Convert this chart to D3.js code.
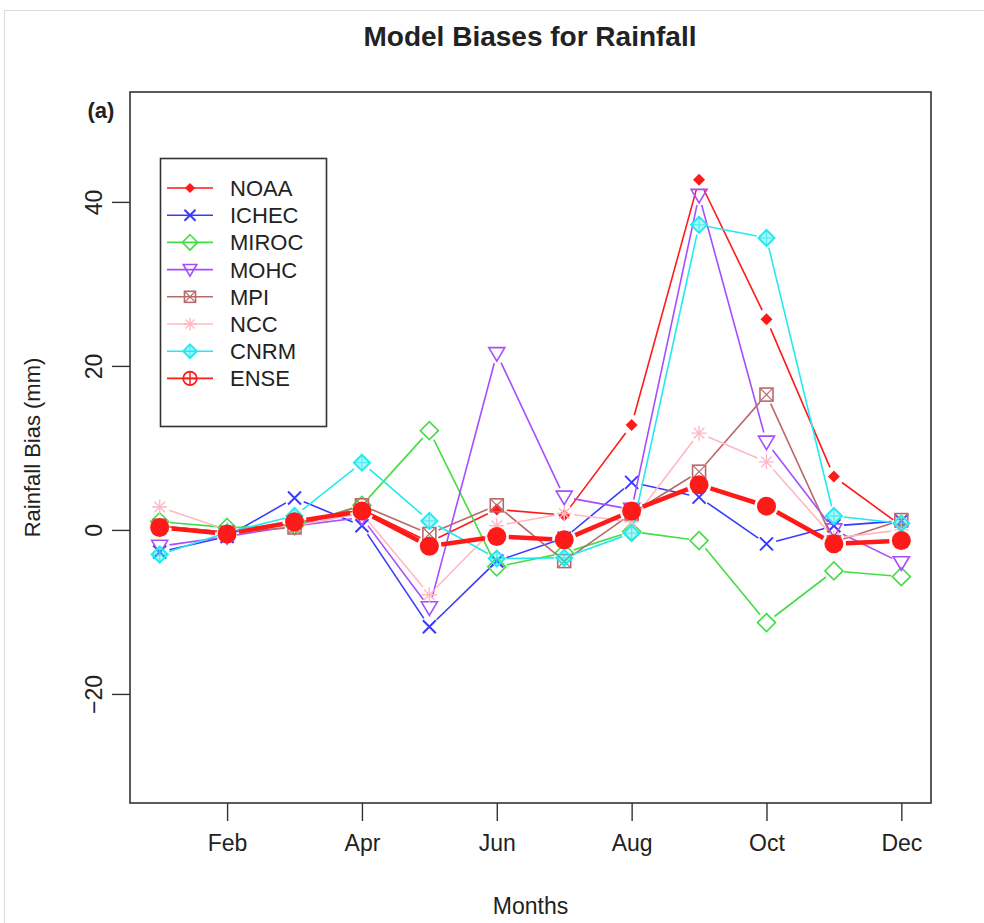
<!DOCTYPE html>
<html>
<head>
<meta charset="utf-8">
<script src="https://cdn.jsdelivr.net/npm/d3@7"></script>
<style>
  html, body { margin: 0; padding: 0; background: #fff; }
  svg text { font-family: "Liberation Sans", Arial, Helvetica, sans-serif; fill: #222; }
</style>
</head>
<body>
<svg id="chart" width="984" height="923"></svg>
<script>
// Monthly rainfall bias (mm) per model, Jan..Dec
const months = [1,2,3,4,5,6,7,8,9,10,11,12];
const tickMonths = [2,4,6,8,10,12];
const tickMonthLabels = ["Feb","Apr","Jun","Aug","Oct","Dec"];
const yTicks = [-20, 0, 20, 40];

const NOAA  = [0.5, -0.3, 0.8, 2.5, -1.5, 2.5, 1.8, 12.8, 42.7, 25.7, 6.5, 0.5];
const ICHEC = [-2.7, -0.8, 3.9, 0.5, -11.8, -3.8, -1.0, 5.8, 4.0, -1.7, 0.5, 1.1];
const MIROC = [1.0, 0.3, 0.5, 3.0, 12.1, -4.5, -2.8, -0.2, -1.3, -11.3, -5.0, -5.7];
const MOHC  = [-2.0, -0.8, 0.5, 1.5, -9.5, 21.5, 4.0, 2.5, 40.8, 10.7, 0.0, -4.0];
const MPI   = [0.5, -0.3, 0.3, 3.0, -0.5, 3.0, -3.8, 2.0, 7.1, 16.5, -1.5, 1.2];
const NCC   = [2.8, 0.0, 0.5, 2.0, -7.9, 0.5, 2.0, 1.0, 11.8, 8.3, -1.0, 0.0];
const CNRM  = [-3.0, -0.3, 1.7, 8.2, 1.1, -3.5, -3.4, -0.4, 37.2, 35.6, 1.7, 0.8];
const ENSE  = [0.3, -0.5, 1.0, 2.3, -2.0, -0.8, -1.2, 2.3, 5.5, 2.9, -1.7, -1.3];

const seriesNames  = ["NOAA","ICHEC","MIROC","MOHC","MPI","NCC","CNRM","ENSE"];
const seriesValues = [NOAA, ICHEC, MIROC, MOHC, MPI, NCC, CNRM, ENSE];
const seriesColors = ["#ff1a1a","#3a3aff","#44dd44","#a64dff","#b86a6a","#ffb8c4","#22eaf0","#ff1a1a"];
const seriesSymbols = ["diamondFilled","cross","diamond","triangleDown","boxX","star","diamondPlus","circleFilled"];
const legendSymbols = ["diamondFilled","cross","diamond","triangleDown","boxX","star","diamondPlus","circlePlus"];

const svg = d3.select("#chart");

// outer frame
svg.append("rect").attr("x", 4.5).attr("y", 10.5).attr("width", 990).attr("height", 930)
  .attr("fill", "none").attr("stroke", "#dcdcdc").attr("stroke-width", 1);

const plot = { left: 130, right: 931, top: 92, bottom: 803 };

const x = d3.scaleLinear().domain([0.56, 12.44]).range([plot.left, plot.right]);
const y = d3.scaleLinear().domain([-33.3, 53.4]).range([plot.bottom, plot.top]);

// axes
const xAxis = d3.axisBottom(x).tickValues(tickMonths)
  .tickFormat((d, i) => tickMonthLabels[i]).tickSize(18).tickPadding(14);
const gx = svg.append("g").attr("transform", `translate(0,${plot.bottom})`).call(xAxis);
gx.select(".domain").remove();
gx.selectAll("line").attr("stroke", "#333").attr("stroke-width", 1.4);
gx.selectAll("text").attr("font-size", 23).style("font-family", '"Liberation Sans", Arial, sans-serif').attr("fill", "#222");

const yAxis = d3.axisLeft(y).tickValues(yTicks).tickSize(18).tickFormat(d3.format("d"));
const gy = svg.append("g").attr("transform", `translate(${plot.left},0)`).call(yAxis);
gy.select(".domain").remove();
gy.selectAll("line").attr("stroke", "#333").attr("stroke-width", 1.4);
gy.selectAll("text")
  .attr("font-size", 23).style("font-family", '"Liberation Sans", Arial, sans-serif').attr("fill", "#222")
  .attr("x", null).attr("dy", null)
  .attr("text-anchor", "middle")
  .attr("transform", "translate(-28,0) rotate(-90)");

// plot box
svg.append("rect")
  .attr("x", plot.left).attr("y", plot.top)
  .attr("width", plot.right - plot.left).attr("height", plot.bottom - plot.top)
  .attr("fill", "none").attr("stroke", "#333").attr("stroke-width", 1.6);

// titles
svg.append("text").attr("x", 530).attr("y", 46).attr("text-anchor", "middle")
  .attr("font-size", 28).attr("font-weight", "bold").text("Model Biases for Rainfall");
svg.append("text").attr("x", 101).attr("y", 118).attr("text-anchor", "middle")
  .attr("font-size", 22).attr("font-weight", "bold").text("(a)");
svg.append("text").attr("x", (plot.left + plot.right) / 2).attr("y", 914).attr("text-anchor", "middle")
  .attr("font-size", 23).text("Months");
svg.append("text").attr("transform", `translate(40,${(plot.top + plot.bottom) / 2}) rotate(-90)`)
  .attr("text-anchor", "middle").attr("font-size", 22).text("Rainfall Bias (mm)");

// symbol drawing
function drawSymbol(g, type, cx, cy, color, scale) {
  const s = scale || 1;
  const t = g.append("g").attr("transform", `translate(${cx},${cy})`);
  const sw = 1.6;
  switch (type) {
    case "diamondFilled": {
      const r = 6 * s;
      t.append("path").attr("d", `M0,${-r}L${r},0L0,${r}L${-r},0Z`).attr("fill", color);
      break;
    }
    case "cross": {
      const r = 6.5 * s;
      t.append("path").attr("d", `M${-r},${-r}L${r},${r}M${-r},${r}L${r},${-r}`)
        .attr("stroke", color).attr("stroke-width", 2).attr("fill", "none");
      break;
    }
    case "diamond": {
      const r = 9 * s;
      t.append("path").attr("d", `M0,${-r}L${r},0L0,${r}L${-r},0Z`)
        .attr("stroke", color).attr("stroke-width", sw).attr("fill", "none");
      break;
    }
    case "triangleDown": {
      const r = 8 * s;
      t.append("path").attr("d", `M${-r},${-r * 0.75}L${r},${-r * 0.75}L0,${r * 0.95}Z`)
        .attr("stroke", color).attr("stroke-width", sw).attr("fill", "none");
      break;
    }
    case "boxX": {
      const r = 6.5 * s;
      t.append("rect").attr("x", -r).attr("y", -r).attr("width", 2 * r).attr("height", 2 * r)
        .attr("stroke", color).attr("stroke-width", sw).attr("fill", "none");
      t.append("path").attr("d", `M${-r},${-r}L${r},${r}M${-r},${r}L${r},${-r}`)
        .attr("stroke", color).attr("stroke-width", 1.2);
      break;
    }
    case "star": {
      const r = 7.5 * s;
      const d = r * 0.707;
      t.append("path").attr("d", `M${-r},0L${r},0M0,${-r}L0,${r}M${-d},${-d}L${d},${d}M${-d},${d}L${d},${-d}`)
        .attr("stroke", color).attr("stroke-width", 1.4);
      break;
    }
    case "diamondPlus": {
      const r = 8 * s;
      t.append("path").attr("d", `M0,${-r}L${r},0L0,${r}L${-r},0Z`)
        .attr("stroke", color).attr("stroke-width", 2).attr("fill", color).attr("fill-opacity", 0.35);
      t.append("path").attr("d", `M${-r},0L${r},0M0,${-r}L0,${r}`)
        .attr("stroke", color).attr("stroke-width", 1.3).attr("stroke-opacity", 0.7);
      break;
    }
    case "circleFilled": {
      t.append("circle").attr("r", 9.5 * s).attr("fill", color);
      break;
    }
    case "circlePlus": {
      const r = 8 * s;
      t.append("circle").attr("r", r).attr("fill", "none").attr("stroke", color).attr("stroke-width", 1.8);
      t.append("path").attr("d", `M${-r},0L${r},0M0,${-r}L0,${r}`)
        .attr("stroke", color).attr("stroke-width", 1.5);
      break;
    }
  }
}

// series: lines broken around each point, then the symbols
const marks = svg.append("g");
seriesNames.forEach((name, si) => {
  const vals = seriesValues[si];
  const color = seriesColors[si];
  const isMean = name === "ENSE";
  const gap = isMean ? 12 : 10;
  const g = marks.append("g");
  const pts = months.map((m, i) => [x(m), y(vals[i])]);
  for (let i = 0; i < pts.length - 1; i++) {
    const [x1, y1] = pts[i], [x2, y2] = pts[i + 1];
    const dx = x2 - x1, dy = y2 - y1;
    const len = Math.hypot(dx, dy);
    if (len <= 2 * gap) continue;
    const ux = dx / len, uy = dy / len;
    g.append("line")
      .attr("x1", x1 + ux * gap).attr("y1", y1 + uy * gap)
      .attr("x2", x2 - ux * gap).attr("y2", y2 - uy * gap)
      .attr("stroke", color).attr("stroke-width", isMean ? 4.5 : 1.6);
  }
  pts.forEach(([px, py]) => drawSymbol(g, seriesSymbols[si], px, py, color));
});

// legend
const legend = svg.append("g");
legend.append("rect").attr("x", 160.5).attr("y", 158.5).attr("width", 166).attr("height", 268)
  .attr("fill", "#fff").attr("stroke", "#333").attr("stroke-width", 1.6);
seriesNames.forEach((name, i) => {
  const ly = 188 + i * 27.2;
  legend.append("line").attr("x1", 167).attr("x2", 213).attr("y1", ly).attr("y2", ly)
    .attr("stroke", seriesColors[i]).attr("stroke-width", 1.6);
  drawSymbol(legend, legendSymbols[i], 190, ly, seriesColors[i], 0.85);
  legend.append("text").attr("x", 230).attr("y", ly + 8).attr("font-size", 22).text(name);
});
</script>
</body>
</html>
